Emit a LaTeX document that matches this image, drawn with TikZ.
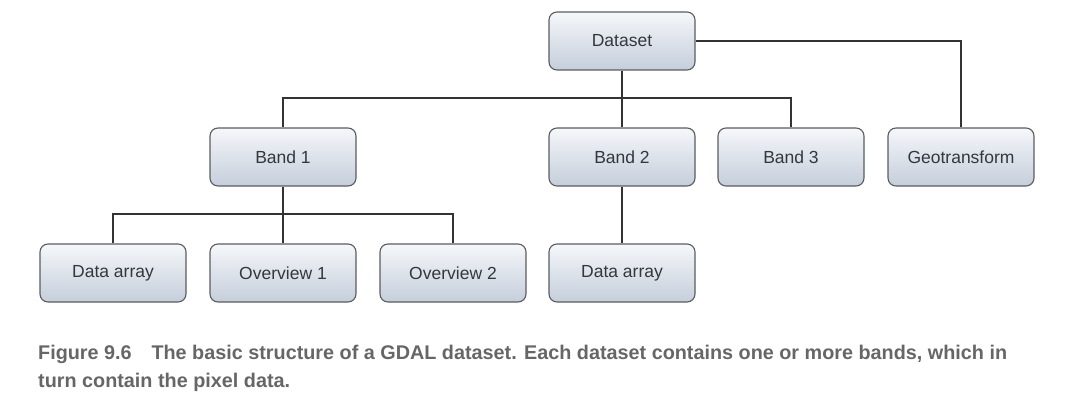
\documentclass[tikz,border=0pt]{standalone}
\usepackage{fontspec}
\setmainfont{Liberation Sans}
\definecolor{boxline}{HTML}{5A5C60}
\definecolor{boxtop}{HTML}{F5F7FA}
\definecolor{boxbottom}{HTML}{C5CEDB}
\definecolor{boxtext}{HTML}{34373C}
\definecolor{captext}{HTML}{666666}
\begin{document}
\begin{tikzpicture}[x=1pt,y=-1pt,
		item/.style={draw=boxline,line width=1.1pt,rounded corners=8pt,
				top color=boxtop,bottom color=boxbottom,
				minimum width=146pt,minimum height=58pt,
				text=boxtext,font=\fontsize{17.5}{20}\selectfont},
		link/.style={draw=black!80,line width=1.1pt}]
		% Fix the page size
		\useasboundingbox (0,0) rectangle (1080,404);

		% Top level
		\node[item] (dataset) at (622,41) {Dataset};

		% Bands and geotransform
		\node[item] (band1) at (283,157) {Band 1};
		\node[item] (band2) at (622,157) {Band 2};
		\node[item] (band3) at (791,157) {Band 3};
		\node[item] (geo) at (961,157) {Geotransform};

		% Contents of the bands
		\node[item] (data1) at (113,273) {Data array};
		\node[item] (over1) at (283,273) {Overview 1};
		\node[item] (over2) at (453,273) {Overview 2};
		\node[item] (data2) at (622,273) {Data array};

		% Connectors from the dataset
		\coordinate (bus1) at (622,98);
		\draw[link] (dataset.south) -- (bus1);
		\draw[link] (band1.north) |- (bus1) -| (band3.north);
		\draw[link] (bus1) -- (band2.north);
		\draw[link] (dataset.east) -| (geo.north);

		% Connectors from band 1 and band 2
		\coordinate (bus2) at (283,214);
		\draw[link] (band1.south) -- (over1.north);
		\draw[link] (data1.north) |- (bus2) -| (over2.north);
		\draw[link] (band2.south) -- (data2.north);

		% Caption
		\node[anchor=base west,inner sep=0pt,text=captext,
			font=\bfseries\fontsize{19.8}{28}\selectfont] (cap1) at (38,359)
			{Figure 9.6\hspace{1em}The basic structure of a GDAL dataset. Each dataset contains one or more bands, which in};
		\node[anchor=base west,inner sep=0pt,text=captext,
			font=\bfseries\fontsize{19.8}{28}\selectfont] (cap2) at (38,387)
			{turn contain the pixel data.};
	\end{tikzpicture}
\end{document}
